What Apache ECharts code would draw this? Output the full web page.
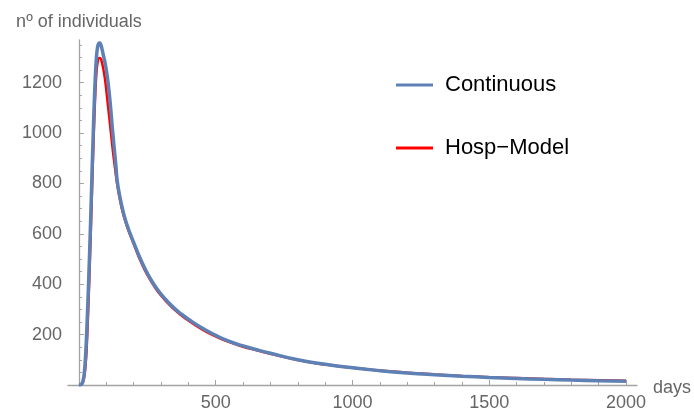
<!DOCTYPE html>
<html>
<head>
<meta charset="utf-8">
<script src="https://cdn.jsdelivr.net/npm/echarts@6/dist/echarts.min.js"></script>
<style>html,body{margin:0;padding:0;background:#fff}#c{width:694px;height:408px}</style>
</head>
<body>
<div id="c"></div>
<script>
// Continuous model
const contDays = [0,8,13,18,22,25,28,32,36,40,44,48,52,56,60,64,68,72,76,80,85,90,95,100,107,115,122,129,135,140,150,160,170,180,190,200,220,240,260,280,300,325,350,375,400,450,500,550,600,650,700,800,900,1000,1100,1200,1300,1400,1500,1600,1700,1800,1900,2000];
const contVals = [0,2,10,35,80,130,200,310,430,560,700,850,990,1120,1225,1300,1340,1355,1357,1350,1330,1305,1280,1250,1195,1110,1020,940,870,810,745,695,655,622,593,566,512,465,424,390,361,330,303,281,261,226,197,173,155,140,126,100,82,68,57,48,41,35,30,26,22.5,19.5,17,15];
// Hosp-Model
const hospDays = [0,10,15,20,25,28,32,36,40,44,48,52,56,60,64,68,72,77,82,88,95,102,110,118,125,132,140,150,160,170,180,190,200,220,240,260,280,300,325,350,375,400,450,500,550,600,650,700,800,900,1000,1100,1200,1300,1400,1500,1600,1700,1800,1900,2000];
const hospVals = [0,3,12,35,90,140,240,360,490,630,780,920,1050,1160,1240,1280,1296,1298,1288,1260,1215,1150,1070,990,920,860,795,735,686,648,616,588,560,505,458,418,384,355,325,298,276,256,221,193,170,152,138,124,99,81,68,57.5,49,42,36,31,27.5,24,21,19,17];

const xMinorTicks = [100,200,300,400,500,600,700,800,900,1000,1100,1200,1300,1400,1500,1600,1700,1800,1900,2000];
const xMajorTicks = [500,1000,1500,2000];
const xLabels = [500,1000,1500,2000];
const yMinorTicks = [50,100,150,200,250,300,350,400,450,500,550,600,650,700,750,800,850,900,950,1000,1050,1100,1150,1200,1250,1300,1350];
const yMajorTicks = [200,400,600,800,1000,1200];
const yLabels = [200,400,600,800,1000,1200];

const seriesNames = ['Continuous', 'Hosp\u2212Model'];

const FONT = "'Liberation Sans', Arial, sans-serif";
const AX = '#a3a3a3';
const LBL = '#666666';

const chart = echarts.init(document.getElementById('c'), null, {renderer: 'canvas'});
const pair = (xs, ys) => xs.map((x, i) => [x, ys[i]]);
const plain = v => String(v);

chart.setOption({
  animation: false,
  backgroundColor: '#ffffff',
  grid: {left: 68, right: 57, top: 40, bottom: 23, containLabel: false, outerBoundsMode: 'none'},
  legend: {
    orient: 'vertical',
    left: 391,
    top: 68,
    itemWidth: 37,
    itemHeight: 3,
    itemGap: 39,
    icon: 'path://M0 0H37V3H0Z',
    data: seriesNames,
    textStyle: {fontFamily: FONT, fontSize: 22, color: '#000', lineHeight: 24, padding: [0, 0, 0, 7]}
  },
  xAxis: [
    {
      type: 'value', min: -40, max: 2040,
      name: 'days', nameLocation: 'end', nameGap: 16,
      nameTextStyle: {fontFamily: FONT, fontSize: 18, color: LBL, verticalAlign: 'top', lineHeight: 6},
      axisLine: {show: true, onZero: true, lineStyle: {color: AX, width: 1.3}},
      axisTick: {show: true, inside: true, length: 3, customValues: xMinorTicks, lineStyle: {color: AX}},
      axisLabel: {show: true, customValues: xLabels, formatter: plain, margin: 9, fontFamily: FONT, fontSize: 18, color: LBL},
      splitLine: {show: false}
    },
    {
      type: 'value', min: -40, max: 2040, position: 'bottom',
      axisLine: {show: false},
      axisTick: {show: true, inside: true, length: 5, customValues: xMajorTicks, lineStyle: {color: AX}},
      axisLabel: {show: false},
      splitLine: {show: false}
    }
  ],
  yAxis: [
    {
      type: 'value', min: 0, max: 1369, position: 'left',
      name: 'n\u00ba of individuals', nameLocation: 'end', nameGap: 9,
      nameTextStyle: {fontFamily: FONT, fontSize: 18, color: LBL},
      axisLine: {show: true, onZero: true, lineStyle: {color: AX, width: 1.3}},
      axisTick: {show: true, inside: true, length: 3, customValues: yMinorTicks, lineStyle: {color: AX}},
      axisLabel: {show: true, customValues: yLabels, formatter: plain, margin: 6, fontFamily: FONT, fontSize: 18, color: LBL},
      splitLine: {show: false}
    },
    {
      type: 'value', min: 0, max: 1369, position: 'left',
      axisLine: {show: true, onZero: true, lineStyle: {color: 'rgba(0,0,0,0)'}},
      axisTick: {show: true, inside: true, length: 5, customValues: yMajorTicks, lineStyle: {color: AX}},
      axisLabel: {show: false},
      splitLine: {show: false}
    }
  ],
  series: [
    {
      name: seriesNames[1], type: 'line', xAxisIndex: 0, yAxisIndex: 0,
      data: pair(hospDays, hospVals),
      showSymbol: false, symbol: 'none', smooth: 0.5,
      lineStyle: {color: '#ff0000', width: 2.5}, itemStyle: {color: '#ff0000'}, z: 2
    },
    {
      name: seriesNames[0], type: 'line', xAxisIndex: 0, yAxisIndex: 0,
      data: pair(contDays, contVals),
      showSymbol: false, symbol: 'none', smooth: 0.5,
      lineStyle: {color: '#5e81b5', width: 3.5}, itemStyle: {color: '#5e81b5'}, z: 3
    }
  ]
});
</script>
</body>
</html>
